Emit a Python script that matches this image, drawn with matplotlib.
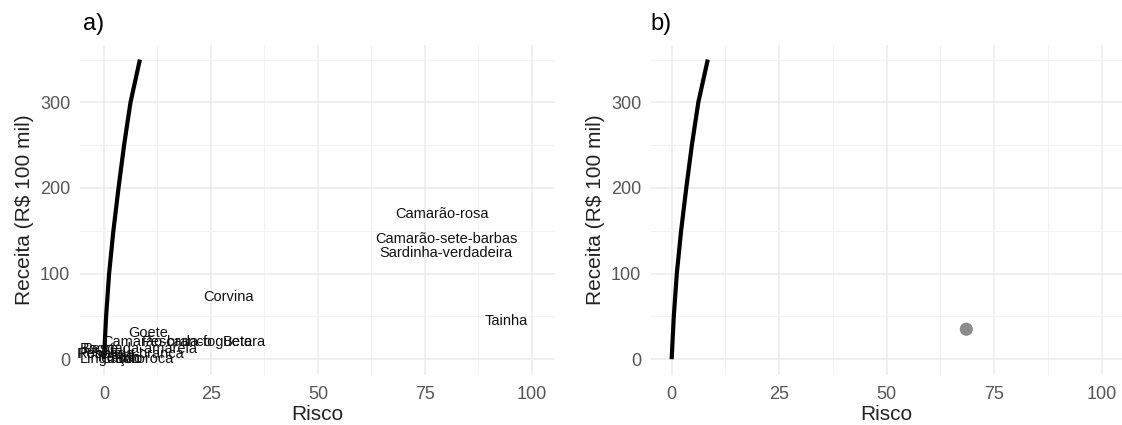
import matplotlib
matplotlib.use("Agg")
from matplotlib import pyplot as plt
from matplotlib.ticker import MultipleLocator

plt.rcParams['font.family'] = ['Liberation Sans', 'DejaVu Sans']

# fronteira (linha preta), igual nos dois paineis
fronteira_risco = [0, 0.5, 1.2, 2.2, 3.4, 4.7, 6.2, 8.4]
fronteira_receita = [0, 50, 100, 150, 200, 250, 300, 350]

# especies (painel a)
especies = ["Camarão-rosa", "Camarão-sete-barbas", "Sardinha-verdadeira", "Corvina", "Tainha",
            "Goete", "Camarão-branco", "Pescada-foguete", "Betara",
            "Bagre", "Pescada-amarela", "Robalo", "Pescada-branca",
            "Linguado", "Cação", "Sororoca", "Parati"]
risco_especies = [79, 80, 80, 29, 94,
                  10.3, 12.4, 21.7, 32.7,
                  -1, 8.4, -1, 6.3,
                  1.5, 4, 9.3, 3]
receita_especies = [169, 140, 124, 73, 44,
                    31, 20, 20, 20,
                    12, 12, 6, 6,
                    0, 0, 0, 2]

# carteira (painel b)
carteira_risco = [68.5]
carteira_receita = [35]

fig = plt.figure(figsize=(11.22, 4.25), dpi=100)
ax_a = fig.add_axes([80/1122, 1-375/425, 475/1122, 330/425])
ax_b = fig.add_axes([651/1122, 1-375/425, 471/1122, 330/425])

for ax in (ax_a, ax_b):
    ax.plot(fronteira_risco, fronteira_receita, color='black', linewidth=3, solid_capstyle='butt', zorder=3)
    ax.set_ylim(-18.5, 367)
    ax.xaxis.set_major_locator(MultipleLocator(25))
    ax.xaxis.set_minor_locator(MultipleLocator(12.5))
    ax.yaxis.set_major_locator(MultipleLocator(100))
    ax.yaxis.set_minor_locator(MultipleLocator(50))
    ax.grid(which='major', color='#EBEBEB', linewidth=1.1)
    ax.grid(which='minor', color='#F2F2F2', linewidth=0.8)
    ax.set_axisbelow(True)
    for s in ax.spines.values():
        s.set_visible(False)
    ax.tick_params(which='both', length=0, labelsize=13, labelcolor='#555555')
    ax.tick_params(axis='x', pad=8)
    ax.tick_params(axis='y', pad=7)
    ax.set_xlabel("Risco", fontsize=15, color='#222222', labelpad=1)
    ax.set_ylabel("Receita (R$ 100 mil)", fontsize=15, color='#222222', labelpad=4)

ax_a.set_xlim(-5.6, 105.4)
ax_b.set_xlim(-4.8, 104.7)

for nome, x, y in zip(especies, risco_especies, receita_especies):
    ax_a.text(x, y, nome, fontsize=10.5, ha='center', va='center', color='#111111')

ax_b.scatter(carteira_risco, carteira_receita, s=90, color='#8C8C8C', edgecolors='none', zorder=4)

fig.text(83/1122, 1-24/425, "a)", fontsize=17, ha='left', va='center')
fig.text(650/1122, 1-24/425, "b)", fontsize=17, ha='left', va='center')

plt.savefig("out.png", dpi=100)
